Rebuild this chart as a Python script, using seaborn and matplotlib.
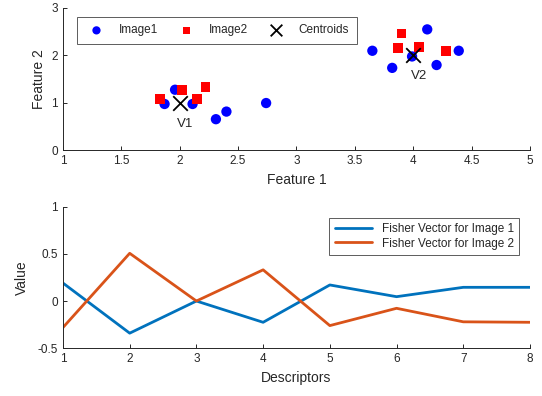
import matplotlib
matplotlib.use("Agg")
import matplotlib.pyplot as plt
import seaborn as sns
import pandas as pd
import numpy as np

sns.set_theme(style="ticks")
plt.rcParams['font.family'] = ['Liberation Sans', 'DejaVu Sans']

# Top scatter data
img1_x = [1.87, 1.96, 2.11, 2.31, 2.40, 2.74, 3.65, 3.82, 3.99, 4.12, 4.20, 4.39]
img1_y = [0.97, 1.27, 0.97, 0.65, 0.81, 0.99, 2.09, 1.73, 1.97, 2.54, 1.79, 2.09]
img2_x = [1.83, 2.02, 2.15, 2.22, 3.90, 3.87, 4.05, 4.28]
img2_y = [1.07, 1.27, 1.08, 1.33, 2.45, 2.15, 2.17, 2.09]
cent_x = [2.0, 4.0]
cent_y = [1.0, 2.0]
cent_labels = ["V1", "V2"]

# Bottom line data
descriptors = [1, 2, 3, 4, 5, 6, 7, 8]
fv1 = [0.19, -0.34, 0.0, -0.225, 0.17, 0.046, 0.145, 0.145]
fv2 = [-0.28, 0.505, 0.0, 0.33, -0.26, -0.077, -0.22, -0.225]

fig = plt.figure(figsize=(5.42, 3.96), dpi=100)
ax1 = fig.add_axes([0.1162, 0.621, 0.8616, 0.36])
ax2 = fig.add_axes([0.1162, 0.1205, 0.8616, 0.358])

sns.scatterplot(x=img1_x, y=img1_y, ax=ax1, color="#0000FF", marker="o", s=55,
                edgecolor="none", label="Image1", zorder=3)
sns.scatterplot(x=img2_x, y=img2_y, ax=ax1, color="#FF0000", marker="s", s=48,
                edgecolor="none", label="Image2", zorder=3)
sns.scatterplot(x=cent_x, y=cent_y, ax=ax1, color="black", marker="x", s=110,
                linewidth=1.3, label="Centroids", zorder=4)
for cx, cy, t in zip(cent_x, cent_y, cent_labels):
    ax1.text(cx + 0.05, cy - 0.45, t, ha="center", va="center", fontsize=9.5)

ax1.set_xlim(1, 5)
ax1.set_ylim(0, 3)
ax1.set_xticks([1, 1.5, 2, 2.5, 3, 3.5, 4, 4.5, 5])
ax1.set_xticklabels(["1", "1.5", "2", "2.5", "3", "3.5", "4", "4.5", "5"])
ax1.set_yticks([0, 1, 2, 3])
ax1.set_xlabel("Feature 1", fontsize=10, labelpad=4)
ax1.set_ylabel("Feature 2", fontsize=10, labelpad=4)
leg1 = ax1.legend(loc="upper left", bbox_to_anchor=(0.03, 0.935), ncol=3, fontsize=8.5,
                  frameon=True, fancybox=False, edgecolor="#333333", handletextpad=0.9,
                  columnspacing=1.4, borderpad=0.65, borderaxespad=0, markerscale=0.8,
                  handlelength=2.0)
leg1.get_frame().set_linewidth(0.7)
leg1.set_zorder(1)

df = pd.DataFrame({"Descriptors": descriptors * 2,
                   "Value": fv1 + fv2,
                   "Series": ["Fisher Vector for Image 1"] * 8 + ["Fisher Vector for Image 2"] * 8})
sns.lineplot(data=df, x="Descriptors", y="Value", hue="Series",
             palette=["#0072BD", "#D95319"], linewidth=2, ax=ax2)
ax2.set_xlim(1, 8)
ax2.set_ylim(-0.5, 1)
ax2.set_xticks(descriptors)
ax2.set_yticks([-0.5, 0, 0.5, 1])
ax2.set_yticklabels(["-0.5", "0", "0.5", "1"])
ax2.set_xlabel("Descriptors", fontsize=10, labelpad=4)
ax2.set_ylabel("Value", fontsize=10, labelpad=6)
leg2 = ax2.legend(loc="upper right", bbox_to_anchor=(0.977, 0.92), fontsize=8.5,
                  frameon=True, fancybox=False, edgecolor="#333333", title=None,
                  handlelength=3.2, borderpad=0.45, labelspacing=0.2, borderaxespad=0)
leg2.get_frame().set_linewidth(0.7)

for ax in (ax1, ax2):
    sns.despine(ax=ax)
    ax.tick_params(direction="in", length=3, width=0.7, colors="#262626",
                   labelsize=8.5, labelcolor="#262626")
    for sp in ("left", "bottom"):
        ax.spines[sp].set_linewidth(0.7)
        ax.spines[sp].set_color("#262626")

fig.savefig("out.png", dpi=100)
